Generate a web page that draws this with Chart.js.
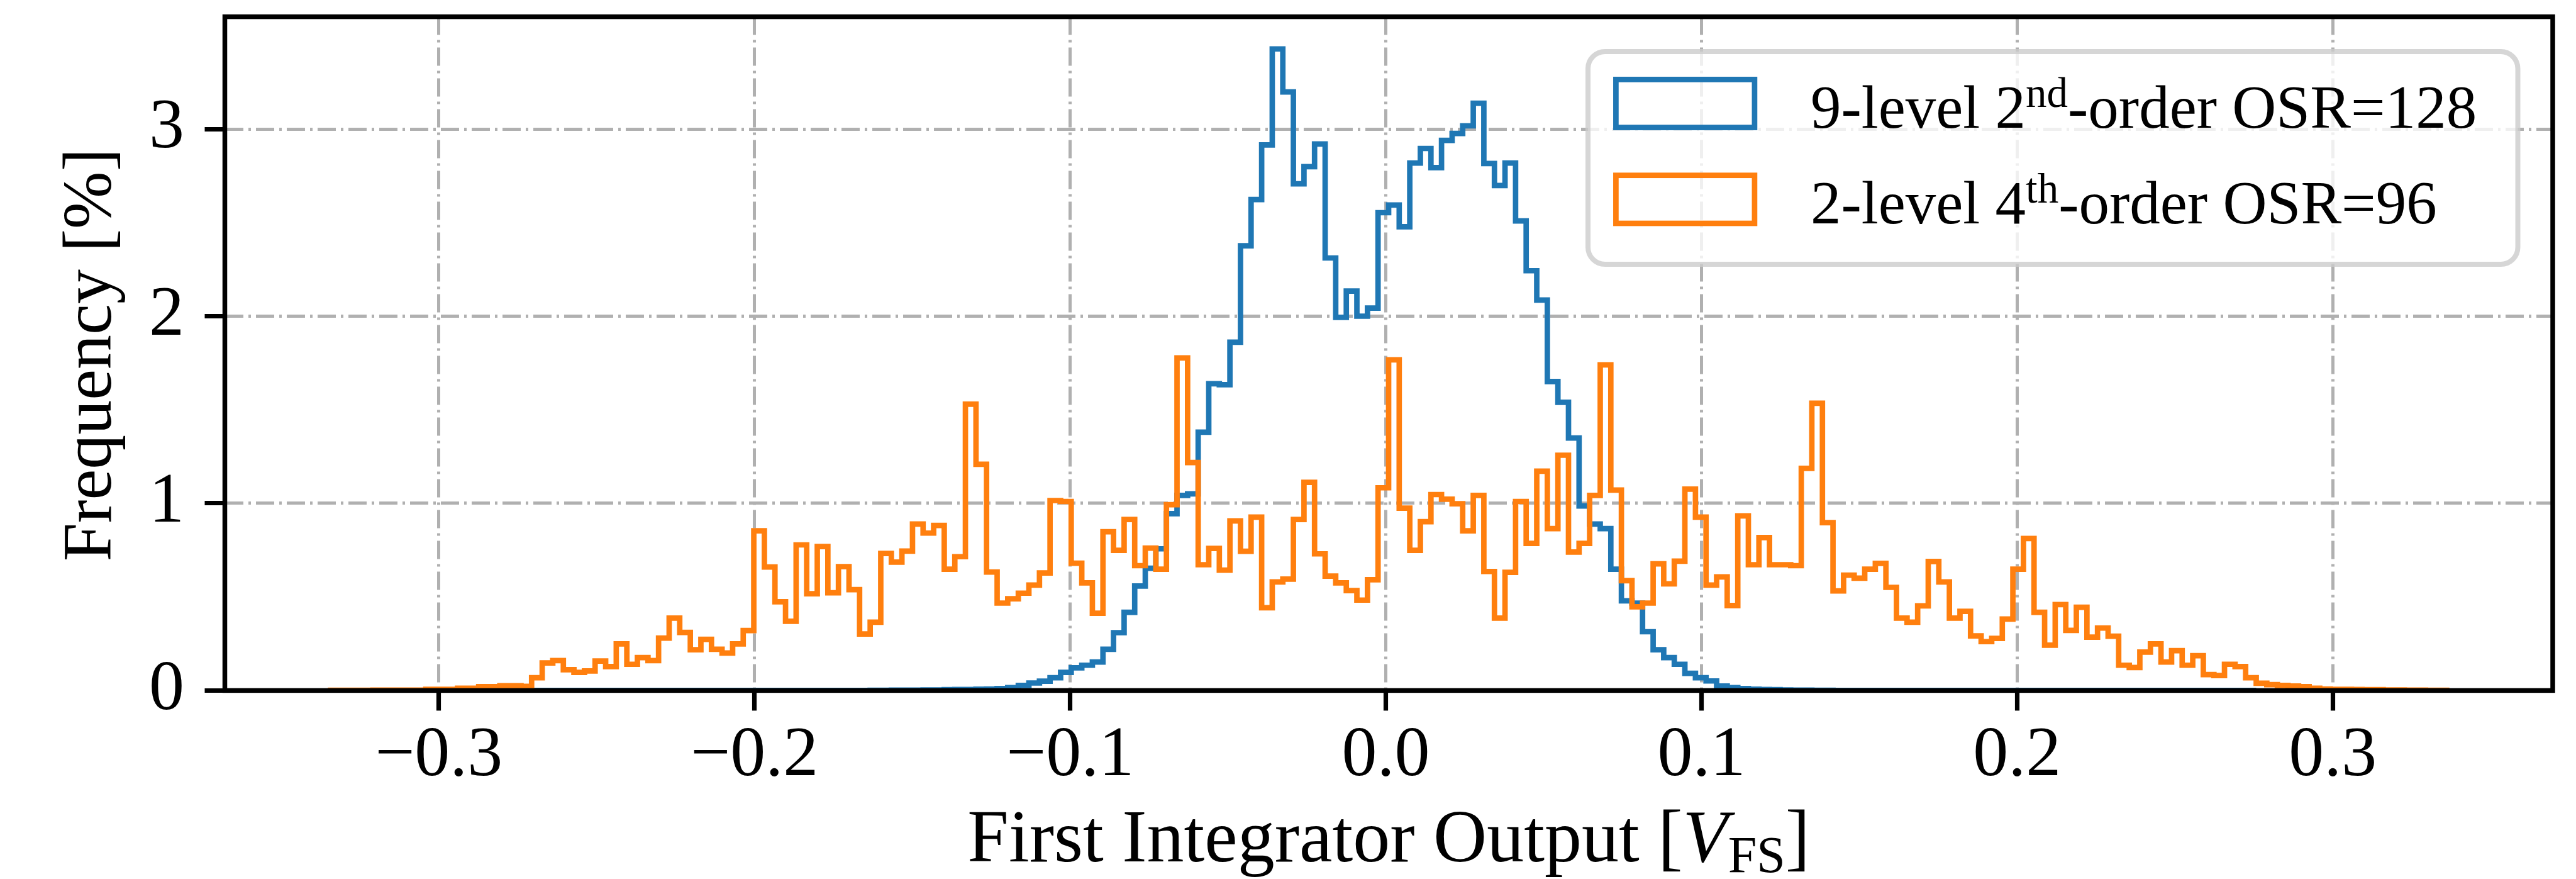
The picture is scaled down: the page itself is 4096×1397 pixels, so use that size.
<!DOCTYPE html>
<html>
<head>
<meta charset="utf-8">
<script src="https://cdn.jsdelivr.net/npm/chart.js@4.4.1/dist/chart.umd.min.js"></script>
<style>
  html, body { margin: 0; padding: 0; background: #fff; }
  #wrap { width: 4096px; height: 1397px; }
</style>
</head>
<body>
<div id="wrap"><canvas id="hist"></canvas></div>
<script>
// shared histogram bins
const binStart = -0.3343;
const binWidth = 0.003352;
const binCount = 200;

const xTickValues = [-0.3, -0.2, -0.1, 0.0, 0.1, 0.2, 0.3];
const yTickValues = [0, 1, 2, 3];

// 2-level 4th-order OSR=96, bins 0..199 (%)
const orangeValues = [
  0.001, 0.001, 0.001, 0.001, 0.002, 0.002, 0.002, 0.002, 0.002, 0.006,
  0.006, 0.006, 0.012, 0.012, 0.020, 0.020, 0.025, 0.025, 0.022, 0.068,
  0.147, 0.160, 0.111, 0.097, 0.104, 0.157, 0.128, 0.249, 0.140, 0.176,
  0.160, 0.280, 0.387, 0.310, 0.218, 0.273, 0.220, 0.200, 0.249, 0.320,
  0.853, 0.660, 0.474, 0.370, 0.778, 0.517, 0.769, 0.522, 0.662, 0.539,
  0.302, 0.365, 0.732, 0.686, 0.745, 0.889, 0.841, 0.882, 0.648, 0.715,
  1.530, 1.209, 0.633, 0.467, 0.490, 0.520, 0.563, 0.628, 1.015, 1.010,
  0.680, 0.575, 0.413, 0.848, 0.749, 0.914, 0.667, 0.761, 0.648, 0.993,
  1.777, 1.218, 0.672, 0.759, 0.643, 0.906, 0.744, 0.926, 0.442, 0.580,
  0.595, 0.914, 1.112, 0.730, 0.611, 0.575, 0.534, 0.483, 0.592, 1.083,
  1.767, 0.974, 0.749, 0.902, 1.047, 1.022, 0.998, 0.853, 1.042, 0.636,
  0.387, 0.631, 1.010, 0.786, 1.172, 0.865, 1.257, 0.740, 0.786, 1.042,
  1.740, 1.071, 0.587, 0.447, 0.467, 0.677, 0.570, 0.691, 1.076, 0.926,
  0.563, 0.607, 0.454, 0.933, 0.672, 0.817, 0.672, 0.672, 0.667, 1.187,
  1.535, 0.897, 0.532, 0.616, 0.600, 0.648, 0.679, 0.551, 0.387, 0.365,
  0.452, 0.689, 0.580, 0.387, 0.423, 0.292, 0.261, 0.278, 0.382, 0.648,
  0.812, 0.418, 0.242, 0.459, 0.321, 0.445, 0.285, 0.334, 0.290, 0.135,
  0.123, 0.205, 0.249, 0.152, 0.213, 0.135, 0.186, 0.085, 0.080, 0.140,
  0.128, 0.068, 0.039, 0.031, 0.027, 0.024, 0.020, 0.012, 0.008, 0.006,
  0.006, 0.005, 0.004, 0.004, 0.003, 0.003, 0.002, 0.002, 0.001, 0.001
];

// 9-level 2nd-order OSR=128, bins 19..181 (%)
const blueFirstBin = 19;
const blueValues = [
  0, 0, 0, 0, 0, 0, 0, 0, 0, 0,
  0, 0, 0, 0, 0, 0, 0, 0, 0, 0,
  0, 0, 0, 0, 0, 0, 0, 0, 0, 0,
  0, 0, 0.001, 0.001, 0.002, 0.002, 0.002, 0.003, 0.003, 0.004,
  0.005, 0.005, 0.007, 0.008, 0.010, 0.015, 0.027, 0.040, 0.050, 0.068,
  0.097, 0.121, 0.135, 0.152, 0.220, 0.309, 0.418, 0.558, 0.653, 0.757,
  0.945, 1.042, 1.051, 1.380, 1.639, 1.634, 1.861, 2.376, 2.623, 2.915,
  3.428, 3.198, 2.707, 2.799, 2.920, 2.311, 1.994, 2.134, 2.000, 2.043,
  2.553, 2.594, 2.478, 2.818, 2.896, 2.794, 2.939, 2.976, 3.017, 3.138,
  2.816, 2.698, 2.818, 2.509, 2.243, 2.086, 1.651, 1.540, 1.349, 0.986,
  0.889, 0.865, 0.648, 0.479, 0.467, 0.314, 0.218, 0.176, 0.140, 0.092,
  0.068, 0.051, 0.024, 0.015, 0.010, 0.007, 0.005, 0.004, 0.003, 0.002,
  0.002, 0.001, 0.001, 0, 0, 0, 0, 0, 0, 0,
  0, 0, 0, 0, 0, 0, 0, 0, 0, 0,
  0, 0, 0, 0, 0, 0, 0, 0, 0, 0,
  0, 0, 0, 0, 0, 0, 0, 0, 0, 0,
  0, 0, 0
];

// legend text: [before superscript, superscript, after]
const blueLabel = ['9-level 2', 'nd', '-order OSR=128'];
const orangeLabel = ['2-level 4', 'th', '-order OSR=96'];
const yTitle = 'Frequency [%]';

const BLUE = '#1f77b4';
const ORANGE = '#ff7f0e';
const serif = "'Liberation Serif', 'DejaVu Serif', serif";

Chart.defaults.font.family = serif;
Chart.defaults.color = '#000';

// bin edges
const edges = [];
for (let i = 0; i <= binCount; i++) edges.push(binStart + i * binWidth);

// outline of a step histogram: up at first edge, across each bin, down at last edge
function stepPoints(firstBin, values) {
  const pts = [{ x: edges[firstBin], y: 0 }];
  values.forEach((v, k) => pts.push({ x: edges[firstBin + k], y: v }));
  pts.push({ x: edges[firstBin + values.length], y: 0 });
  return pts;
}

function tickText(v) {
  return v.toFixed(1).replace('-', '\u2212');
}

// writes runs of text (different fonts / offsets) one after another
function drawRuns(ctx, runs, x, y, align) {
  let total = 0;
  runs.forEach(r => { ctx.font = r.font; r.w = ctx.measureText(r.text).width; total += r.w; });
  let cx = align === 'center' ? x - total / 2 : x;
  runs.forEach(r => {
    ctx.font = r.font;
    ctx.fillText(r.text, cx, y + (r.dy || 0));
    cx += r.w;
  });
}

function roundRect(ctx, x0, y0, x1, y1, r) {
  ctx.beginPath();
  ctx.moveTo(x0 + r, y0);
  ctx.lineTo(x1 - r, y0);
  ctx.arcTo(x1, y0, x1, y0 + r, r);
  ctx.lineTo(x1, y1 - r);
  ctx.arcTo(x1, y1, x1 - r, y1, r);
  ctx.lineTo(x0 + r, y1);
  ctx.arcTo(x0, y1, x0, y1 - r, r);
  ctx.lineTo(x0, y0 + r);
  ctx.arcTo(x0, y0, x0 + r, y0, r);
  ctx.closePath();
}

// frame, axis titles and legend
const extras = {
  id: 'extras',
  afterDraw(chart) {
    const { ctx, chartArea: a } = chart;
    ctx.save();
    ctx.fillStyle = '#000';
    ctx.textBaseline = 'alphabetic';

    // axes frame
    ctx.lineWidth = 7.5;
    ctx.strokeStyle = '#000';
    ctx.lineJoin = 'miter';
    ctx.strokeRect(a.left, a.top, a.right - a.left, a.bottom - a.top);

    // y title
    ctx.save();
    ctx.translate(176, (a.top + a.bottom) / 2 + 2);
    ctx.rotate(-Math.PI / 2);
    ctx.font = '110px ' + serif;
    ctx.textAlign = 'center';
    ctx.fillText(yTitle, 0, 0);
    ctx.restore();

    // x title
    ctx.textAlign = 'left';
    drawRuns(ctx, [
      { text: 'First Integrator Output [', font: '118px ' + serif },
      { text: 'V', font: 'italic 118px ' + serif },
      { text: 'FS', font: '82px ' + serif, dy: 17 },
      { text: ']', font: '118px ' + serif }
    ], (a.left + a.right) / 2, 1368.5, 'center');

    // legend box
    roundRect(ctx, 2525, 82, 4003.5, 420, 27);
    ctx.fillStyle = 'rgba(255,255,255,0.8)';
    ctx.fill();
    ctx.lineWidth = 8;
    ctx.strokeStyle = 'rgba(204,204,204,0.8)';
    ctx.stroke();

    const rows = [
      { label: blueLabel, color: BLUE },
      { label: orangeLabel, color: ORANGE }
    ];
    rows.forEach((row, i) => {
      const top = 126.3 + i * 152.4;
      ctx.lineWidth = 8.7;
      ctx.strokeStyle = row.color;
      ctx.strokeRect(2569.4, top, 220.5, 76.3);
      ctx.fillStyle = '#000';
      drawRuns(ctx, [
        { text: row.label[0], font: '97px ' + serif },
        { text: row.label[1], font: '67px ' + serif, dy: -33 },
        { text: row.label[2], font: '97px ' + serif }
      ], 2879, top + 76.7, 'left');
    });

    ctx.restore();
  }
};

const gridStyle = {
  color: '#b0b0b0',
  lineWidth: 5,
  drawTicks: true,
  tickLength: 32,
  tickWidth: 7.2,
  tickColor: '#000'
};

new Chart(document.getElementById('hist'), {
  type: 'line',
  data: {
    datasets: [
      {
        label: blueLabel.join(''),
        data: stepPoints(blueFirstBin, blueValues),
        borderColor: BLUE,
        borderWidth: 8.7,
        backgroundColor: 'rgba(0,0,0,0)',
        fill: false,
        pointRadius: 0,
        stepped: 'before',
        borderJoinStyle: 'miter',
        borderCapStyle: 'butt',
        order: 2
      },
      {
        label: orangeLabel.join(''),
        data: stepPoints(0, orangeValues),
        borderColor: ORANGE,
        borderWidth: 8.7,
        backgroundColor: 'rgba(0,0,0,0)',
        fill: false,
        pointRadius: 0,
        stepped: 'before',
        borderJoinStyle: 'miter',
        borderCapStyle: 'butt',
        order: 1
      }
    ]
  },
  options: {
    responsive: true,
    maintainAspectRatio: false,
    devicePixelRatio: 1,
    animation: false,
    events: [],
    layout: { padding: { top: 26.6, right: 37, bottom: 0, left: 0 } },
    plugins: {
      legend: { display: false },
      tooltip: { enabled: false },
      title: { display: false }
    },
    scales: {
      x: {
        type: 'linear',
        min: -0.3678,
        max: 0.3697,
        z: 1,
        afterBuildTicks: axis => { axis.ticks = xTickValues.map(v => ({ value: v })); },
        afterFit: scale => {
          scale.height = 299.6;
          scale.paddingLeft = 0; scale.paddingRight = 0;
        },
        grid: gridStyle,
        border: { display: false, dash: [29, 8, 4, 8] },
        ticks: {
          font: { size: 112 },
          color: '#000',
          padding: 6,
          maxRotation: 0,
          autoSkip: false,
          callback: v => tickText(v)
        }
      },
      y: {
        min: 0,
        max: 3.6,
        z: 1,
        afterBuildTicks: axis => { axis.ticks = yTickValues.map(v => ({ value: v })); },
        afterFit: scale => {
          scale.width = 357.5;
          scale.paddingTop = 0; scale.paddingBottom = 0;
        },
        grid: gridStyle,
        border: { display: false, dash: [29, 8, 4, 8] },
        ticks: {
          font: { size: 112 },
          color: '#000',
          padding: 32.5,
          autoSkip: false,
          callback: v => String(v)
        }
      }
    }
  },
  plugins: [extras]
});
</script>
</body>
</html>
